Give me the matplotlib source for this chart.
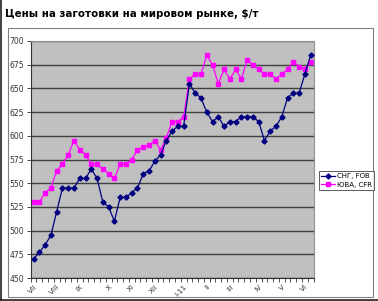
import matplotlib
matplotlib.use("Agg")
import matplotlib.pyplot as plt
from matplotlib.patches import Rectangle
from matplotlib.lines import Line2D

cis_fob = [470, 477, 485, 495, 520, 545, 545, 545, 555, 555, 565, 555, 530, 525, 510,
           535, 535, 540, 545, 560, 563, 573, 580, 595, 605, 610, 610, 655, 645, 640,
           625, 615, 620, 610, 615, 615, 620, 620, 620, 615, 595, 605, 610, 620, 640,
           645, 645, 665, 685]
sea_cfr = [530, 530, 540, 545, 563, 570, 580, 595, 585, 580, 570, 570, 565, 560, 555,
           570, 570, 575, 585, 588, 590, 595, 585, 598, 615, 615, 620, 660, 665, 665,
           685, 675, 655, 670, 660, 670, 660, 680, 675, 670, 665, 665, 660, 665, 670,
           678, 673, 670, 678]
month_labels = ["VII", "VIII", "IX", "X", "XI", "XII", "I-11", "II", "III", "IV", "V", "VI"]
month_pos = [0, 4, 8, 13, 17, 21, 26, 30, 34, 39, 43, 47]
series_names = ["СНГ, FOB", "ЮВА, CFR"]
title = "Цены на заготовки на мировом рынке, $/т"

W, H = 378, 301
fig = plt.figure(figsize=(W / 100, H / 100), dpi=100)
fig.patch.set_facecolor("white")

# outer borders
fig.add_artist(Line2D([1 / W, 1 / W], [0, 1], color="#202020", lw=1.2, transform=fig.transFigure))
fig.add_artist(Line2D([0, 1], [1 - 299.5 / H, 1 - 299.5 / H], color="#202020", lw=1.2, transform=fig.transFigure))
# chart area frame
fig.add_artist(Rectangle((8 / W, 1 - 297 / H), (373 - 8) / W, (297 - 28) / H, fill=False,
                         edgecolor="#808080", lw=0.8, transform=fig.transFigure))

fig.text(5 / W, 1 - 14 / H, title, fontsize=7.4, fontweight="bold", color="black",
         ha="left", va="center", family="DejaVu Sans")

ax = fig.add_axes([30.7 / W, 1 - 278 / H, (313.5 - 30.7) / W, (278 - 41) / H])
ax.set_facecolor("#C0C0C0")
x = list(range(len(cis_fob)))
ax.plot(x, cis_fob, color="#000080", lw=0.9, marker="D", ms=2.6, mfc="#000080", mec="#000080",
        label=series_names[0], zorder=3)
ax.plot(x, sea_cfr, color="#FF00FF", lw=0.9, marker="s", ms=3.3, mfc="#FF00FF", mec="#FF00FF",
        label=series_names[1], zorder=2)

ax.set_xlim(-0.5, len(x) - 0.5)
ax.set_ylim(450, 700)
ax.set_yticks(range(450, 701, 25))
ax.yaxis.grid(True, color="#404040", lw=1.0)
ax.set_axisbelow(True)
ax.tick_params(axis="y", labelsize=5.5, colors="#333333", length=3, width=0.6, pad=2)

ax.set_xticks([p + 0.5 for p in range(-1, len(x))], minor=True)
ax.set_xticks(month_pos)
ax.set_xticklabels(month_labels, rotation=45, ha="right", va="top", rotation_mode="anchor",
                   fontsize=5.2, color="#333333")
ax.tick_params(axis="x", which="major", length=0, pad=4)
ax.tick_params(axis="x", which="minor", length=3, width=0.6, color="#333333")

for side in ["top", "right"]:
    ax.spines[side].set_color("#909090")
    ax.spines[side].set_linewidth(0.8)
for side in ["left", "bottom"]:
    ax.spines[side].set_color("#333333")
    ax.spines[side].set_linewidth(0.8)

leg = fig.legend(loc="upper left", bbox_to_anchor=(319 / W, 1 - 171 / H), fontsize=5,
                 frameon=True, fancybox=False, edgecolor="#333333", borderpad=0.3,
                 handlelength=2.0, labelspacing=0.4, handletextpad=0.3, borderaxespad=0)
leg.get_frame().set_linewidth(0.7)

fig.savefig("out.png", dpi=100, facecolor="white")
